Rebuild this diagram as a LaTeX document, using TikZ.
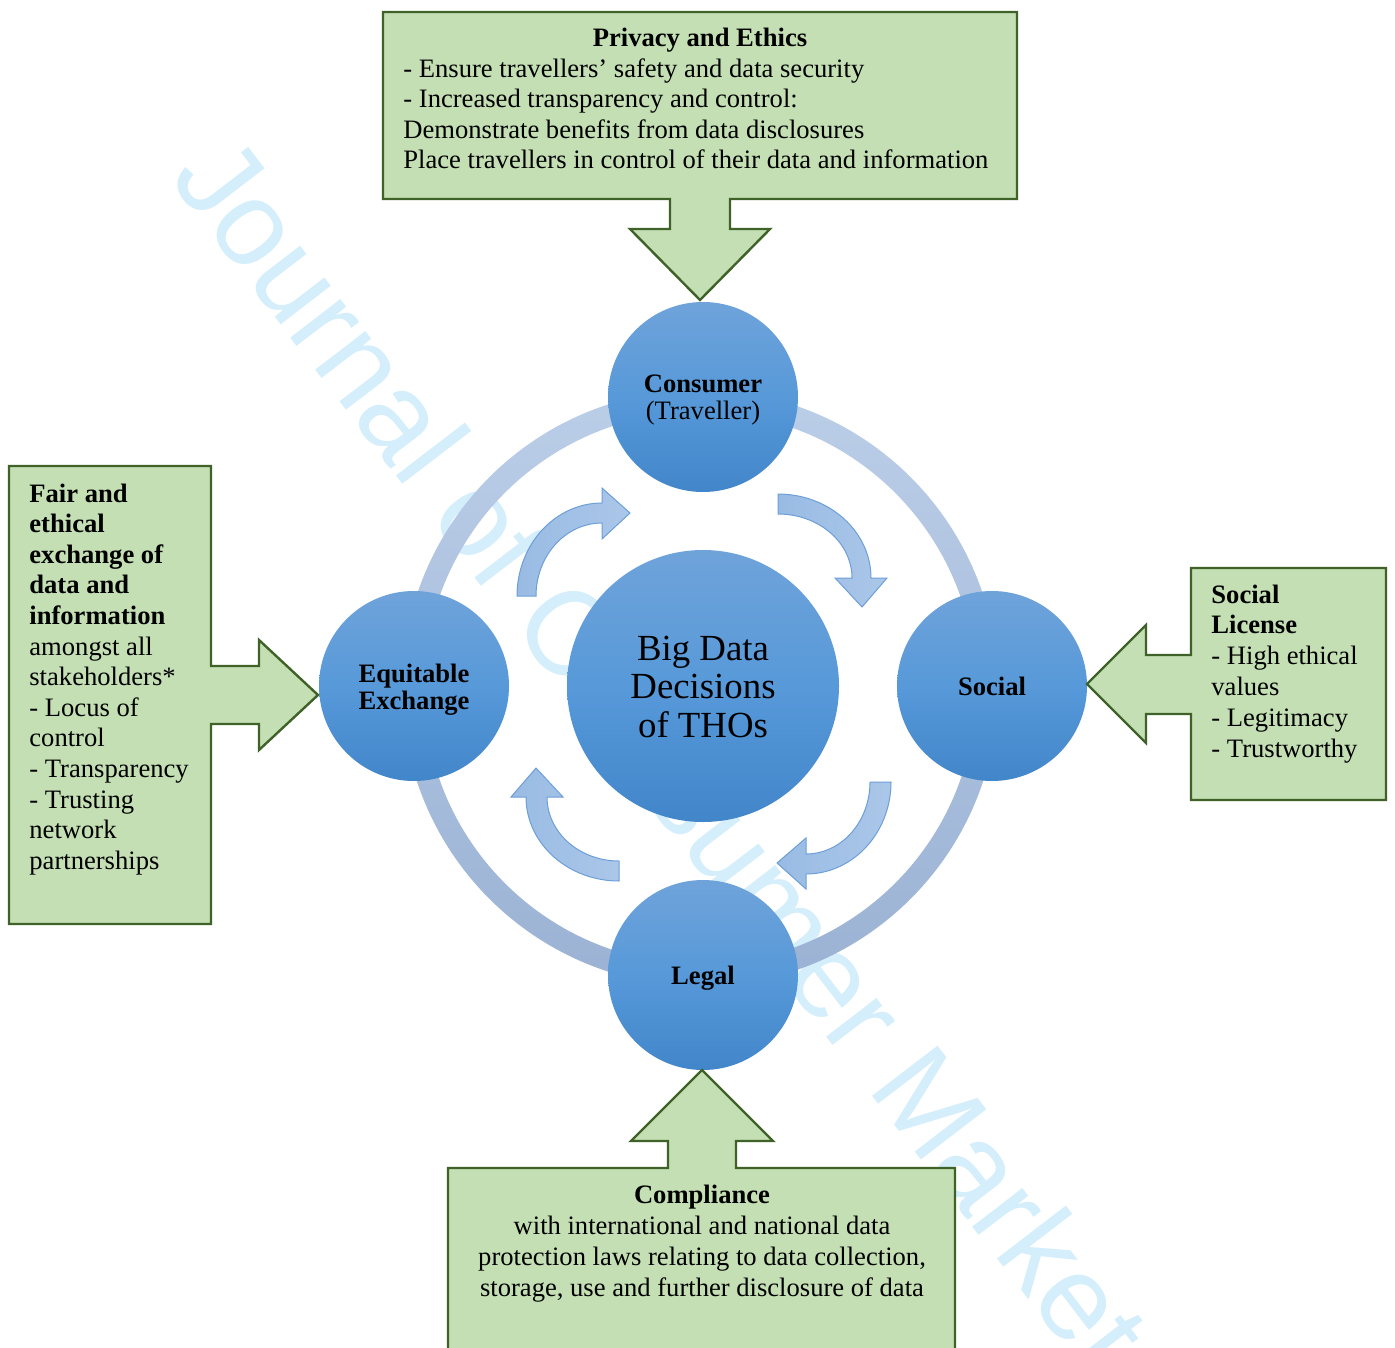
\documentclass[tikz,border=0pt]{standalone}
\usepackage{fontspec}
\setmainfont{Liberation Serif}
\newfontfamily\wmfont{Liberation Sans}
\definecolor{gfill}{HTML}{C4DFB3}
\definecolor{gline}{HTML}{3F6228}
\definecolor{bubtop}{HTML}{6FA3DA}
\definecolor{bubmid}{HTML}{5799D9}
\definecolor{bubbot}{HTML}{4286CA}
\definecolor{ringtop}{HTML}{BBCEE8}
\definecolor{ringbot}{HTML}{9BB2D4}
\definecolor{arrL}{HTML}{99BBE3}
\definecolor{arrR}{HTML}{ABC7E9}
\definecolor{arrline}{HTML}{6C9FD8}
\definecolor{wmcol}{HTML}{D4EEFB}
\newcommand\smallfnt{\fontsize{13.3}{15.3}\selectfont}
\newcommand\bigfnt{\fontsize{18.4}{19}\selectfont}
\tikzset{
  callout/.style={fill=gfill, draw=gline, line width=1.2pt, line join=miter},
  txt/.style={anchor=base west, inner sep=0pt, font=\smallfnt},
  btxt/.style={anchor=base west, inner sep=0pt, font=\smallfnt\bfseries},
  ctxt/.style={anchor=base, inner sep=0pt, font=\smallfnt},
  cbtxt/.style={anchor=base, inner sep=0pt, font=\smallfnt\bfseries},
  bigtxt/.style={anchor=base, inner sep=0pt, font=\bigfnt},
  bubble/.style={circle, inner sep=0pt, minimum size=95pt, draw=none,
    top color=bubtop, bottom color=bubbot, middle color=bubmid},
  curv/.style={left color=arrL, right color=arrR, draw=arrline, line width=0.5pt, line join=miter},
}
\begin{document}
\begin{tikzpicture}[x=0.5pt, y=-0.5pt]
\useasboundingbox (0,0) rectangle (1395,1347);
\clip (0,0) rectangle (1395,1347);

% watermark
\node[anchor=base west, inner sep=0pt, rotate=-52.5, text=wmcol,
      font=\wmfont\fontsize{60}{60}\selectfont] (wm) at (168,178) {Journal of Consumer Market};

% ring
\shade[top color=ringtop, bottom color=ringbot, even odd rule]
  (700,688) circle[radius=149pt] (700,688) circle[radius=138pt];

% curved arrows
\draw[curv] (517,596) -- plot[domain=180:90, samples=40] ({602+85*cos(\x)},{596-93*sin(\x)})
  -- (602,488) -- (630,513) -- (602,539)
  -- plot[domain=90:180, samples=40] ({602+66*cos(\x)},{596-73*sin(\x)}) -- cycle;
\draw[curv] (778,494) -- plot[domain=90:0, samples=40] ({778+93*cos(\x)},{578-84*sin(\x)})
  -- (887,578) -- (862,607) -- (835,578)
  -- plot[domain=0:90, samples=40] ({778+74*cos(\x)},{578-64*sin(\x)}) -- cycle;
\draw[curv] (891,782) -- plot[domain=0:-90, samples=40] ({806+85*cos(\x)},{782-92*sin(\x)})
  -- (806,889) -- (777,863) -- (806,838)
  -- plot[domain=-90:0, samples=40] ({806+64*cos(\x)},{782-72*sin(\x)}) -- cycle;
\draw[curv] (619,881) -- plot[domain=270:180, samples=40] ({619+93*cos(\x)},{797-84*sin(\x)})
  -- (511,797) -- (536,768) -- (563,797)
  -- plot[domain=180:270, samples=40] ({619+72*cos(\x)},{797-64*sin(\x)}) -- cycle;

% circles
\node[bubble] (cons) at (703,397) {};
\node[bubble] (soc) at (992,686) {};
\node[bubble] (leg) at (703,975) {};
\node[bubble] (equ) at (414,686) {};
\node[bubble, minimum size=136pt] (big) at (703,686) {};

\node[cbtxt] (consA) at (703,393) {Consumer};
\node[ctxt] (consB) at (703,420) {(Traveller)};
\node[cbtxt] (equA) at (414,682) {Equitable};
\node[cbtxt] (equB) at (414,709) {Exchange};
\node[cbtxt] (socA) at (992,695) {Social};
\node[cbtxt] (legA) at (703,984) {Legal};
\node[bigtxt] (bigA) at (703,660) {Big Data};
\node[bigtxt] (bigB) at (703,698) {Decisions};
\node[bigtxt] (bigC) at (703,737) {of THOs};

% top callout
\draw[callout] (383,12) -- (1017,12) -- (1017,199) -- (730,199) -- (730,229) -- (770,229)
  -- (700,300) -- (630,229) -- (670,229) -- (670,199) -- (383,199) -- cycle;
\node[cbtxt] (topT) at (700,47) {Privacy and Ethics};
\foreach \t [count=\i] in {{- Ensure travellers’ safety and data security},
  {- Increased transparency and control:},
  {Demonstrate benefits from data disclosures},
  {Place travellers in control of their data and information}}
  \node[txt] (top\i) at (403,{77.5+30.5*(\i-1)}) {\t};

% left callout
\draw[callout] (9,466) -- (211,466) -- (211,666) -- (259,666) -- (259,640) -- (318,695)
  -- (259,750) -- (259,724) -- (211,724) -- (211,924) -- (9,924) -- cycle;
\foreach \t [count=\i] in {Fair and, ethical, exchange of, data and, information}
  \node[btxt] (leftB\i) at (29,{502+30.6*(\i-1)}) {\t};
\foreach \t [count=\i] in {amongst all, stakeholders*, - Locus of, control, - Transparency,
  - Trusting, network, partnerships}
  \node[txt] (leftR\i) at (29,{655+30.6*(\i-1)}) {\t};

% right callout
\draw[callout] (1386,568) -- (1386,800) -- (1191,800) -- (1191,714) -- (1146,714) -- (1146,743)
  -- (1087,684) -- (1146,625) -- (1146,655) -- (1191,655) -- (1191,568) -- cycle;
\node[btxt] (rB1) at (1211,603) {Social};
\node[btxt] (rB2) at (1211,633.8) {License};
\foreach \t [count=\i] in {- High ethical, values, - Legitimacy, - Trustworthy}
  \node[txt] (rR\i) at (1211,{664.6+30.8*(\i-1)}) {\t};

% bottom callout
\draw[callout] (448,1168) -- (668,1168) -- (668,1141) -- (631,1141) -- (702,1070) -- (773,1141)
  -- (736,1141) -- (736,1168) -- (955,1168) -- (955,1370) -- (448,1370) -- cycle;
\node[cbtxt] (botT) at (702,1203) {Compliance};
\foreach \t [count=\i] in {{with international and national data},
  {protection laws relating to data collection,},
  {storage, use and further disclosure of data}}
  \node[ctxt] (bot\i) at (702,{1234+31*(\i-1)}) {\t};
\end{tikzpicture}
\end{document}
